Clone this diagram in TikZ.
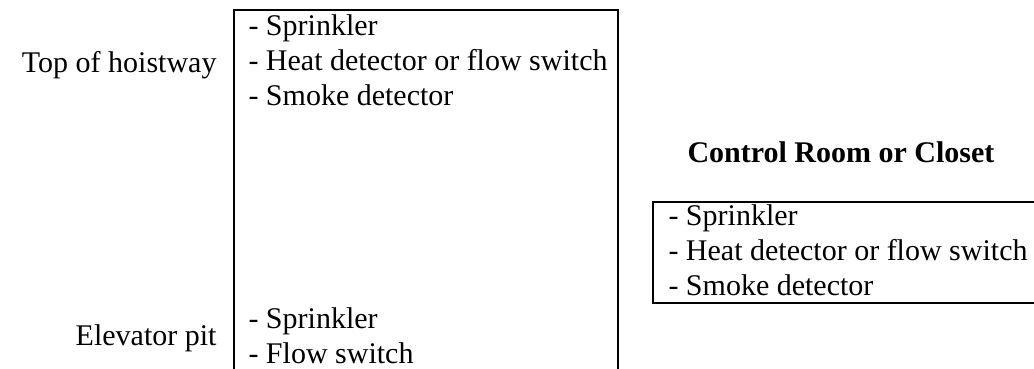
\documentclass[tikz,border=0pt]{standalone}
\usepackage{fontspec}
\setmainfont{Liberation Serif}
\usetikzlibrary{positioning}

\tikzset{
	side label/.style={font=\fontsize{12}{14}\selectfont, inner sep=0pt, anchor=base east},
	% base of a multi-line node is its last line
	list text/.style={font=\fontsize{12}{14}\selectfont, inner sep=0pt, anchor=base west, align=left},
	room title/.style={font=\fontsize{12}{14}\selectfont\bfseries, inner sep=0pt, anchor=base},
	wall/.style={line width=1pt},
}

\begin{document}
\begin{tikzpicture}[x=0.4pt,y=-0.4pt]
	
	\clip (0,0) rectangle (1034,368);
	
	% hoistway (open at the bottom)
	\draw[wall] (234,380) -- (234,10) -- (618,10) -- (618,380);
	
	\node[list text] (topdev) at (248,105) {- Sprinkler\\- Heat detector or flow switch\\- Smoke detector};
	\node[list text] (pitdev) at (248,363) {- Sprinkler\\- Flow switch};
	
	\node[side label] (toplbl) at (217,72) {Top of hoistway};
	\node[side label] (pitlbl) at (217,345) {Elevator pit};
	
	% control room
	\node[room title] (room) at (841,162) {Control Room or Closet};
	
	\draw[wall] (1040,202) -- (653,202) -- (653,303) -- (1040,303);
	\node[list text] (roomdev) at (668,295) {- Sprinkler\\- Heat detector or flow switch\\- Smoke detector};
	
\end{tikzpicture}
\end{document}
